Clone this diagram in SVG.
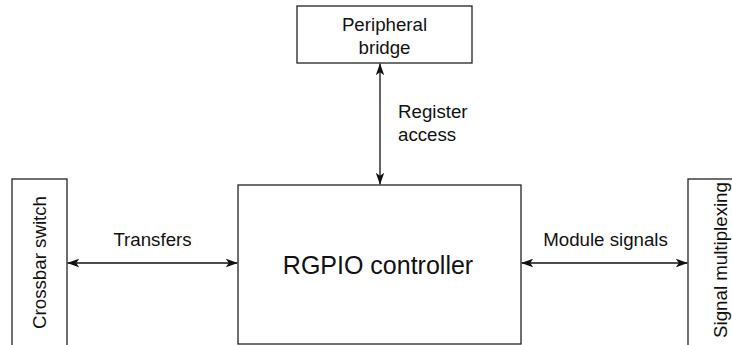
<svg xmlns="http://www.w3.org/2000/svg" width="732" height="345" viewBox="0 0 732 345">
<style>
.box{fill:#fff;stroke:#222;stroke-width:1.3}
.lbl{font-family:"Liberation Sans",Arial,sans-serif;font-size:18.7px;fill:#111}
.big{font-family:"Liberation Sans",Arial,sans-serif;font-size:25px;fill:#111}
.con{stroke:#111;stroke-width:1.3;fill:none;marker-start:url(#ah);marker-end:url(#ah)}
</style>
<defs>
<marker id="ah" viewBox="0 0 12 10" refX="11.5" refY="5" markerWidth="12" markerHeight="10" markerUnits="userSpaceOnUse" orient="auto-start-reverse">
<path d="M0,0.8 L12,5 L0,9.2 L3,5 Z" fill="#111"/>
</marker>
</defs>
<rect width="732" height="345" fill="#fff"/>
<g id="peripheral-bridge">
<rect class="box" x="297" y="6" width="175" height="57"/>
<text class="lbl" x="384.5" y="31" text-anchor="middle">Peripheral</text>
<text class="lbl" x="384.5" y="54" text-anchor="middle">bridge</text>
</g>
<g id="crossbar-switch">
<rect class="box" x="12" y="179" width="55" height="180"/>
<text class="lbl" transform="translate(46,262.5) rotate(-90)" text-anchor="middle">Crossbar switch</text>
</g>
<g id="rgpio-controller">
<rect class="box" x="238" y="185" width="283" height="159"/>
<text class="big" x="378" y="274" text-anchor="middle">RGPIO controller</text>
</g>
<g id="signal-multiplexing">
<rect class="box" x="688" y="179" width="60" height="180"/>
<text class="lbl" transform="translate(727,260) rotate(-90)" text-anchor="middle">Signal multiplexing</text>
</g>
<g id="connectors">
<line class="con" x1="380" y1="63.7" x2="380" y2="184.3"/>
<line class="con" x1="67.7" y1="263" x2="237.3" y2="263"/>
<line class="con" x1="521.7" y1="263" x2="687.3" y2="263"/>
<text class="lbl" x="398" y="118">Register</text>
<text class="lbl" x="398" y="141">access</text>
<text class="lbl" x="152.5" y="246" text-anchor="middle">Transfers</text>
<text class="lbl" x="605.5" y="246" text-anchor="middle">Module signals</text>
</g>
</svg>
